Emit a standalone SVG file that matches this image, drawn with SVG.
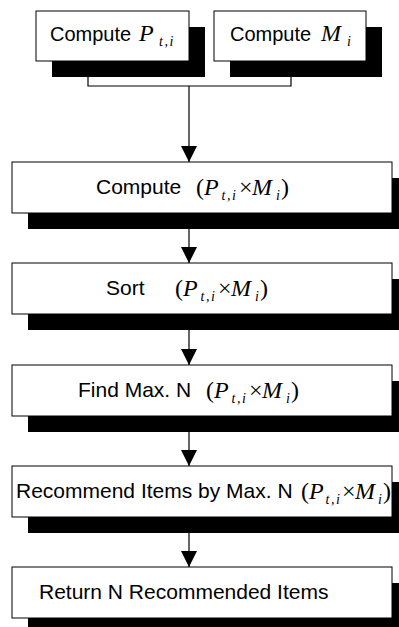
<svg xmlns="http://www.w3.org/2000/svg" width="399" height="627" viewBox="0 0 399 627">
<style>
.box{fill:#fff;stroke:#000;stroke-width:1}
.sh{fill:#000}
.t{font-family:"Liberation Sans",Arial,sans-serif;font-size:21px;fill:#000}
.t20{font-family:"Liberation Sans",Arial,sans-serif;font-size:20px;fill:#000}
.m{font-family:"Liberation Serif","Times New Roman",serif;font-size:24px;fill:#000}
.i{font-style:italic}
.s{font-size:14px;font-style:italic}
.ln{stroke:#000;stroke-width:1.2;fill:none}
</style>
<defs>
<marker id="ah" markerWidth="16" markerHeight="16" refX="16" refY="8" orient="auto" markerUnits="userSpaceOnUse">
<path d="M0,0 L16,8 L0,16 Z" fill="#000"/>
</marker>
</defs>
<rect width="399" height="627" fill="#fff"/>
<g id="connectors">
<path class="ln" d="M88,77 V86 H291 V77"/>
<path class="ln" d="M189,86 V162" marker-end="url(#ah)"/>
<path class="ln" d="M189,229 V263" marker-end="url(#ah)"/>
<path class="ln" d="M189,330 V365" marker-end="url(#ah)"/>
<path class="ln" d="M189,432 V466" marker-end="url(#ah)"/>
<path class="ln" d="M189,533 V567" marker-end="url(#ah)"/>
</g>
<g id="computeP">
<rect class="sh" x="52" y="27" width="153" height="50"/>
<rect class="box" x="36" y="11" width="153" height="50"/>
<text class="t20" x="50" y="41">Compute</text>
<text class="m"><tspan class="i" x="139" y="41">P</tspan><tspan class="s" x="159" y="46" letter-spacing="1.5">t,i</tspan></text>
</g>
<g id="computeM">
<rect class="sh" x="230" y="27" width="152" height="50"/>
<rect class="box" x="214" y="11" width="152" height="50"/>
<text class="t20" x="230" y="41">Compute</text>
<text class="m"><tspan class="i" x="321" y="41">M</tspan><tspan class="s" x="347" y="46">i</tspan></text>
</g>
<g id="computePM">
<rect class="sh" x="28" y="178" width="380" height="51"/>
<rect class="box" x="12" y="162" width="380" height="51"/>
<text class="t" x="96" y="194">Compute</text>
<text class="m"><tspan x="196" y="195">(</tspan><tspan class="i" x="204" y="195">P</tspan><tspan class="s" x="221.5" y="200" letter-spacing="1.5">t,i</tspan><tspan x="239" y="195">×</tspan><tspan class="i" x="252" y="195">M</tspan><tspan class="s" x="276" y="200">i</tspan><tspan x="281" y="195">)</tspan></text>
</g>
<g id="sort">
<rect class="sh" x="28" y="279" width="380" height="51"/>
<rect class="box" x="12" y="263" width="380" height="51"/>
<text class="t" x="106" y="295">Sort</text>
<text class="m"><tspan x="175" y="296">(</tspan><tspan class="i" x="183" y="296">P</tspan><tspan class="s" x="200.5" y="301" letter-spacing="1.5">t,i</tspan><tspan x="218" y="296">×</tspan><tspan class="i" x="231" y="296">M</tspan><tspan class="s" x="255" y="301">i</tspan><tspan x="260" y="296">)</tspan></text>
</g>
<g id="findmax">
<rect class="sh" x="28" y="381" width="380" height="51"/>
<rect class="box" x="12" y="365" width="380" height="51"/>
<text class="t" x="78" y="397">Find Max. N</text>
<text class="m"><tspan x="206" y="398">(</tspan><tspan class="i" x="214" y="398">P</tspan><tspan class="s" x="231.5" y="403" letter-spacing="1.5">t,i</tspan><tspan x="249" y="398">×</tspan><tspan class="i" x="262" y="398">M</tspan><tspan class="s" x="286" y="403">i</tspan><tspan x="291" y="398">)</tspan></text>
</g>
<g id="recommend">
<rect class="sh" x="28" y="482" width="380" height="51"/>
<rect class="box" x="12" y="466" width="380" height="51"/>
<text class="t" x="16" y="498">Recommend Items by Max. N</text>
<text class="m"><tspan x="301" y="499">(</tspan><tspan class="i" x="309" y="499">P</tspan><tspan class="s" x="325.5" y="504" letter-spacing="1.5">t,i</tspan><tspan x="342" y="499">×</tspan><tspan class="i" x="355" y="499">M</tspan><tspan class="s" x="378" y="504">i</tspan><tspan x="383" y="499">)</tspan></text>
</g>
<g id="return">
<rect class="sh" x="28" y="583" width="380" height="51"/>
<rect class="box" x="12" y="567" width="380" height="51"/>
<text class="t" x="39" y="599">Return N Recommended Items</text>
</g>
</svg>
